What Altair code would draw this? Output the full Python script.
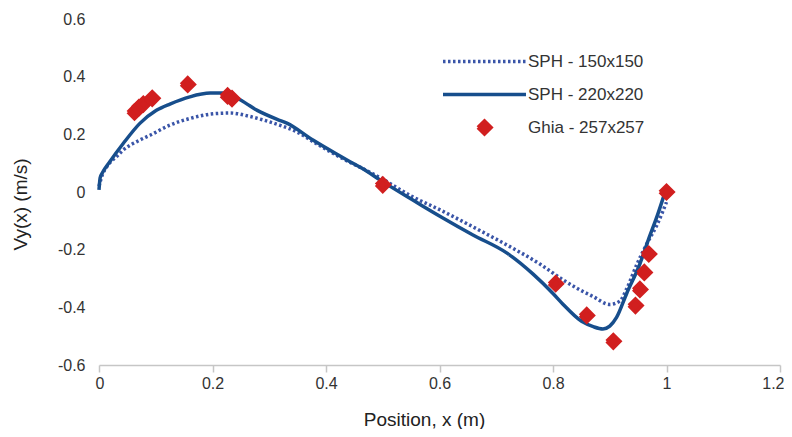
import altair as alt
import pandas as pd

# ---- data ----
sph150_x = [0.0, 0.006, 0.014, 0.032, 0.043, 0.072, 0.09, 0.125, 0.16, 0.196, 0.231, 0.266,
            0.289, 0.318, 0.348, 0.377, 0.407, 0.437, 0.466, 0.495, 0.553, 0.601, 0.659, 0.719,
            0.777, 0.818, 0.848, 0.870, 0.9, 0.918, 0.93, 0.948, 0.966, 0.983, 1.0]
sph150_y = [0.02, 0.06, 0.088, 0.125, 0.146, 0.18, 0.197, 0.232, 0.255, 0.27, 0.274, 0.262,
            0.25, 0.232, 0.209, 0.175, 0.14, 0.108, 0.08, 0.05, -0.017, -0.062, -0.121, -0.184,
            -0.25, -0.305, -0.34, -0.362, -0.39, -0.378, -0.335, -0.25, -0.177, -0.115, -0.035]

sph220_x = [0.0, 0.002, 0.007, 0.019, 0.043, 0.072, 0.102, 0.125, 0.16, 0.196, 0.218, 0.243,
            0.278, 0.314, 0.331, 0.377, 0.437, 0.472, 0.495, 0.553, 0.606, 0.659, 0.719, 0.765,
            0.80, 0.818, 0.848, 0.872, 0.888, 0.9, 0.912, 0.93, 0.953, 0.968, 0.985, 0.997]
sph220_y = [0.007, 0.049, 0.07, 0.105, 0.169, 0.238, 0.284, 0.305, 0.330, 0.343, 0.343, 0.326,
            0.284, 0.252, 0.239, 0.18, 0.111, 0.072, 0.042, -0.028, -0.09, -0.149, -0.212, -0.285,
            -0.352, -0.39, -0.445, -0.468, -0.475, -0.465, -0.435, -0.351, -0.25, -0.166, -0.075, -0.003]

ghia_x = [0.0625, 0.0703, 0.0781, 0.0938, 0.1563, 0.2266, 0.2344, 0.5, 0.8047, 0.8594,
          0.9063, 0.9453, 0.9531, 0.9609, 0.9688, 1.0]
ghia_y = [0.277, 0.293, 0.305, 0.325, 0.373, 0.333, 0.324, 0.025, -0.318, -0.428,
          -0.518, -0.394, -0.338, -0.279, -0.215, 0.0]

series_names = ["SPH - 150x150", "SPH - 220x220", "Ghia - 257x257"]
series_colors = ["#3a55a8", "#174e8c", "#d11f1f"]
series_dash = [[2.5, 2.5], [100, 0], [100, 0]]
series_width = [3.5, 3.5, 0]
LINE_PATH = "M-2.5,0L2.5,0"
DIAMOND_PATH = "M-0.4,0L0,-0.4L0.4,0L0,0.4Z"
series_shape = [LINE_PATH, LINE_PATH, DIAMOND_PATH]
SYMBOL_SIZE = 1102
x_ticks = [0, 0.2, 0.4, 0.6, 0.8, 1, 1.2]
y_ticks = [-0.6, -0.4, -0.2, 0, 0.2, 0.4, 0.6]

lines = pd.concat([
    pd.DataFrame({"x": sph150_x, "y": sph150_y, "series": series_names[0]}),
    pd.DataFrame({"x": sph220_x, "y": sph220_y, "series": series_names[1]}),
])
points = pd.DataFrame({"x": ghia_x, "y": ghia_y, "series": series_names[2]})

FONT = "Liberation Sans"

x_enc = alt.X("x:Q", scale=alt.Scale(domain=[0, 1.2], nice=False, zero=False),
              axis=alt.Axis(values=x_ticks, labelExpr="'' + datum.value", title="Position, x (m)",
                            grid=False, domain=True, domainColor="#c6c6c6", domainWidth=1.5,
                            ticks=True, tickColor="#c6c6c6", tickSize=7, tickWidth=1.5,
                            labelFlush=True, labelFlushOffset=4,
                            labelFont=FONT, labelFontSize=16, labelColor="#333333", labelPadding=3,
                            titleFont=FONT, titleFontSize=19, titleFontWeight="normal",
                            titleColor="#222222", titleX=325, titleY=45))
y_enc = alt.Y("y:Q", scale=alt.Scale(domain=[-0.6, 0.6], nice=False, zero=False),
              axis=alt.Axis(values=y_ticks, labelExpr="'' + datum.value", title="Vy(x) (m/s)",
                            grid=False, domain=False, ticks=False, labelPadding=14,
                            labelFlush=False,
                            labelFont=FONT, labelFontSize=16, labelColor="#333333",
                            titleFont=FONT, titleFontSize=19, titleFontWeight="normal",
                            titleColor="#222222", titleX=-69, titleY=185))

legend = alt.Legend(
    title=None, orient="none", legendX=367, legendY=24,
    symbolOpacity=1, symbolSize=SYMBOL_SIZE,
    labelFont=FONT, labelFontSize=17, labelColor="#333333", labelOffset=25,
    rowPadding=6,
)
dom = dict(domain=series_names)
stroke_ch = alt.Stroke("series:N", scale=alt.Scale(range=series_colors, **dom), legend=legend)
fill_ch = alt.Fill("series:N", scale=alt.Scale(range=series_colors, **dom), legend=legend)
dash_ch = alt.StrokeDash("series:N", scale=alt.Scale(range=series_dash, **dom), legend=legend)
width_ch = alt.StrokeWidth("series:N", scale=alt.Scale(range=series_width, **dom), legend=legend)
shape_ch = alt.Shape("series:N", scale=alt.Scale(range=series_shape, **dom), legend=legend)

line_layer = alt.Chart(lines).mark_line(interpolate="monotone").encode(
    x=x_enc, y=y_enc, stroke=stroke_ch, strokeDash=dash_ch, strokeWidth=width_ch,
    detail="series:N",
)
point_layer = alt.Chart(points).mark_point(filled=True, opacity=1, size=SYMBOL_SIZE).encode(
    x=x_enc, y=y_enc, fill=fill_ch, stroke=stroke_ch, strokeDash=dash_ch,
    strokeWidth=width_ch, shape=shape_ch,
)

chart = alt.layer(line_layer, point_layer).properties(
    width=681, height=346,
    autosize="none",
    padding={"left": 91, "top": 11, "right": 4, "bottom": 64},
).configure_view(stroke=None)

chart.save("out.html", embed_options={"renderer": "svg", "actions": False})
